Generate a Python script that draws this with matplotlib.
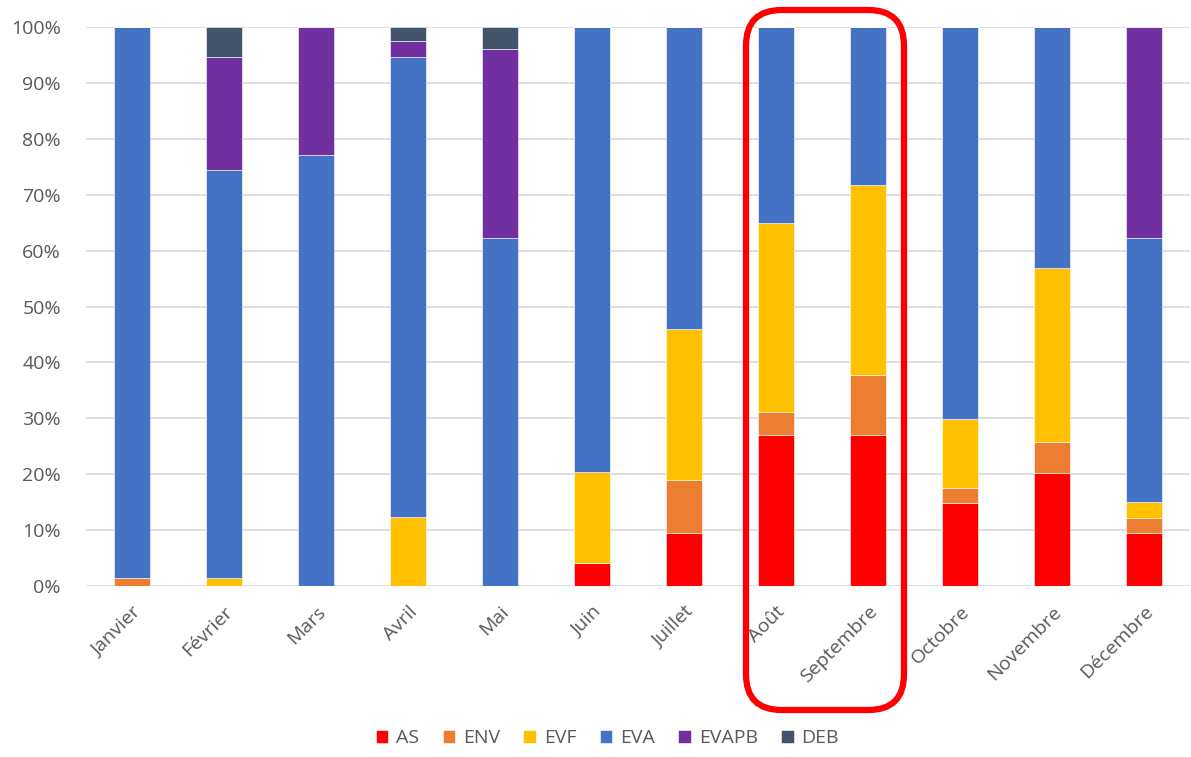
import matplotlib.pyplot as plt
import numpy as np
from matplotlib.patches import FancyBboxPatch

plt.rcParams['font.family'] = ['Open Sans', 'DejaVu Sans']

months = ['Janvier', 'Février', 'Mars', 'Avril', 'Mai', 'Juin', 'Juillet',
          'Août', 'Septembre', 'Octobre', 'Novembre', 'Décembre']

# shares in % per month
AS    = [0.0, 0.0, 0.0, 0.0, 0.0, 4.1, 9.5, 27.0, 27.0, 14.8, 20.2, 9.5]
ENV   = [1.5, 0.0, 0.0, 0.0, 0.0, 0.0, 9.5, 4.1, 10.7, 2.7, 5.6, 2.7]
EVF   = [0.0, 1.5, 0.0, 12.3, 0.0, 16.3, 27.0, 33.8, 34.0, 12.4, 31.1, 2.8]
EVA   = [98.5, 72.9, 77.1, 82.4, 62.3, 79.6, 54.0, 35.1, 28.3, 70.1, 43.1, 47.2]
EVAPB = [0.0, 20.2, 22.9, 2.8, 33.8, 0.0, 0.0, 0.0, 0.0, 0.0, 0.0, 37.8]
DEB   = [0.0, 5.4, 0.0, 2.5, 3.9, 0.0, 0.0, 0.0, 0.0, 0.0, 0.0, 0.0]

series = [('AS', AS, '#FF0000'), ('ENV', ENV, '#ED7D31'), ('EVF', EVF, '#FFC000'),
          ('EVA', EVA, '#4472C4'), ('EVAPB', EVAPB, '#7030A0'), ('DEB', DEB, '#44546A')]

fig = plt.figure(figsize=(11.91, 7.57), dpi=100)
ax = fig.add_axes([86 / 1191, 1 - 586 / 757, 1104 / 1191, 559 / 757])

x = np.arange(len(months))
tot = np.array([sum(s[1][i] for s in series) for i in range(len(months))])
bottom = np.zeros(len(months))
for name, vals, col in series:
    v = np.array(vals) / tot * 100
    ax.bar(x, v, 0.4, bottom=bottom, color=col, label=name,
           edgecolor='white', linewidth=0.4)
    bottom += v

ax.set_xlim(-0.5, len(months) - 0.5)
ax.set_ylim(0, 100)
ax.set_yticks(np.arange(0, 101, 10))
ax.set_yticklabels([f'{t}%' for t in range(0, 101, 10)])
ax.yaxis.grid(True, color='#D9D9D9', linewidth=1.2)
ax.set_axisbelow(True)
for s in ax.spines.values():
    s.set_visible(False)
ax.tick_params(axis='both', length=0, colors='#595959', labelsize=14)
ax.set_xticks(x)
ax.set_xticklabels(months, rotation=45, ha='right', rotation_mode='anchor')
ax.tick_params(axis='x', pad=12)
ax.tick_params(axis='y', pad=18)

leg = fig.legend(loc='center', bbox_to_anchor=(0.51, 1 - 738 / 757), ncol=6,
                 frameon=False, fontsize=14, handlelength=0.65, handleheight=0.65,
                 columnspacing=1.2, handletextpad=0.4)
for t in leg.get_texts():
    t.set_color('#595959')

# red highlight box round Août / Septembre
box = FancyBboxPatch((746 / 1191, 1 - 710 / 757), 158 / 1191, 700 / 757,
                     boxstyle='round,pad=0,rounding_size=0.03',
                     transform=fig.transFigure, fill=False,
                     edgecolor='#FF0000', linewidth=4.5, mutation_aspect=1191 / 757)
fig.patches.append(box)

plt.savefig('out.png', dpi=100)
